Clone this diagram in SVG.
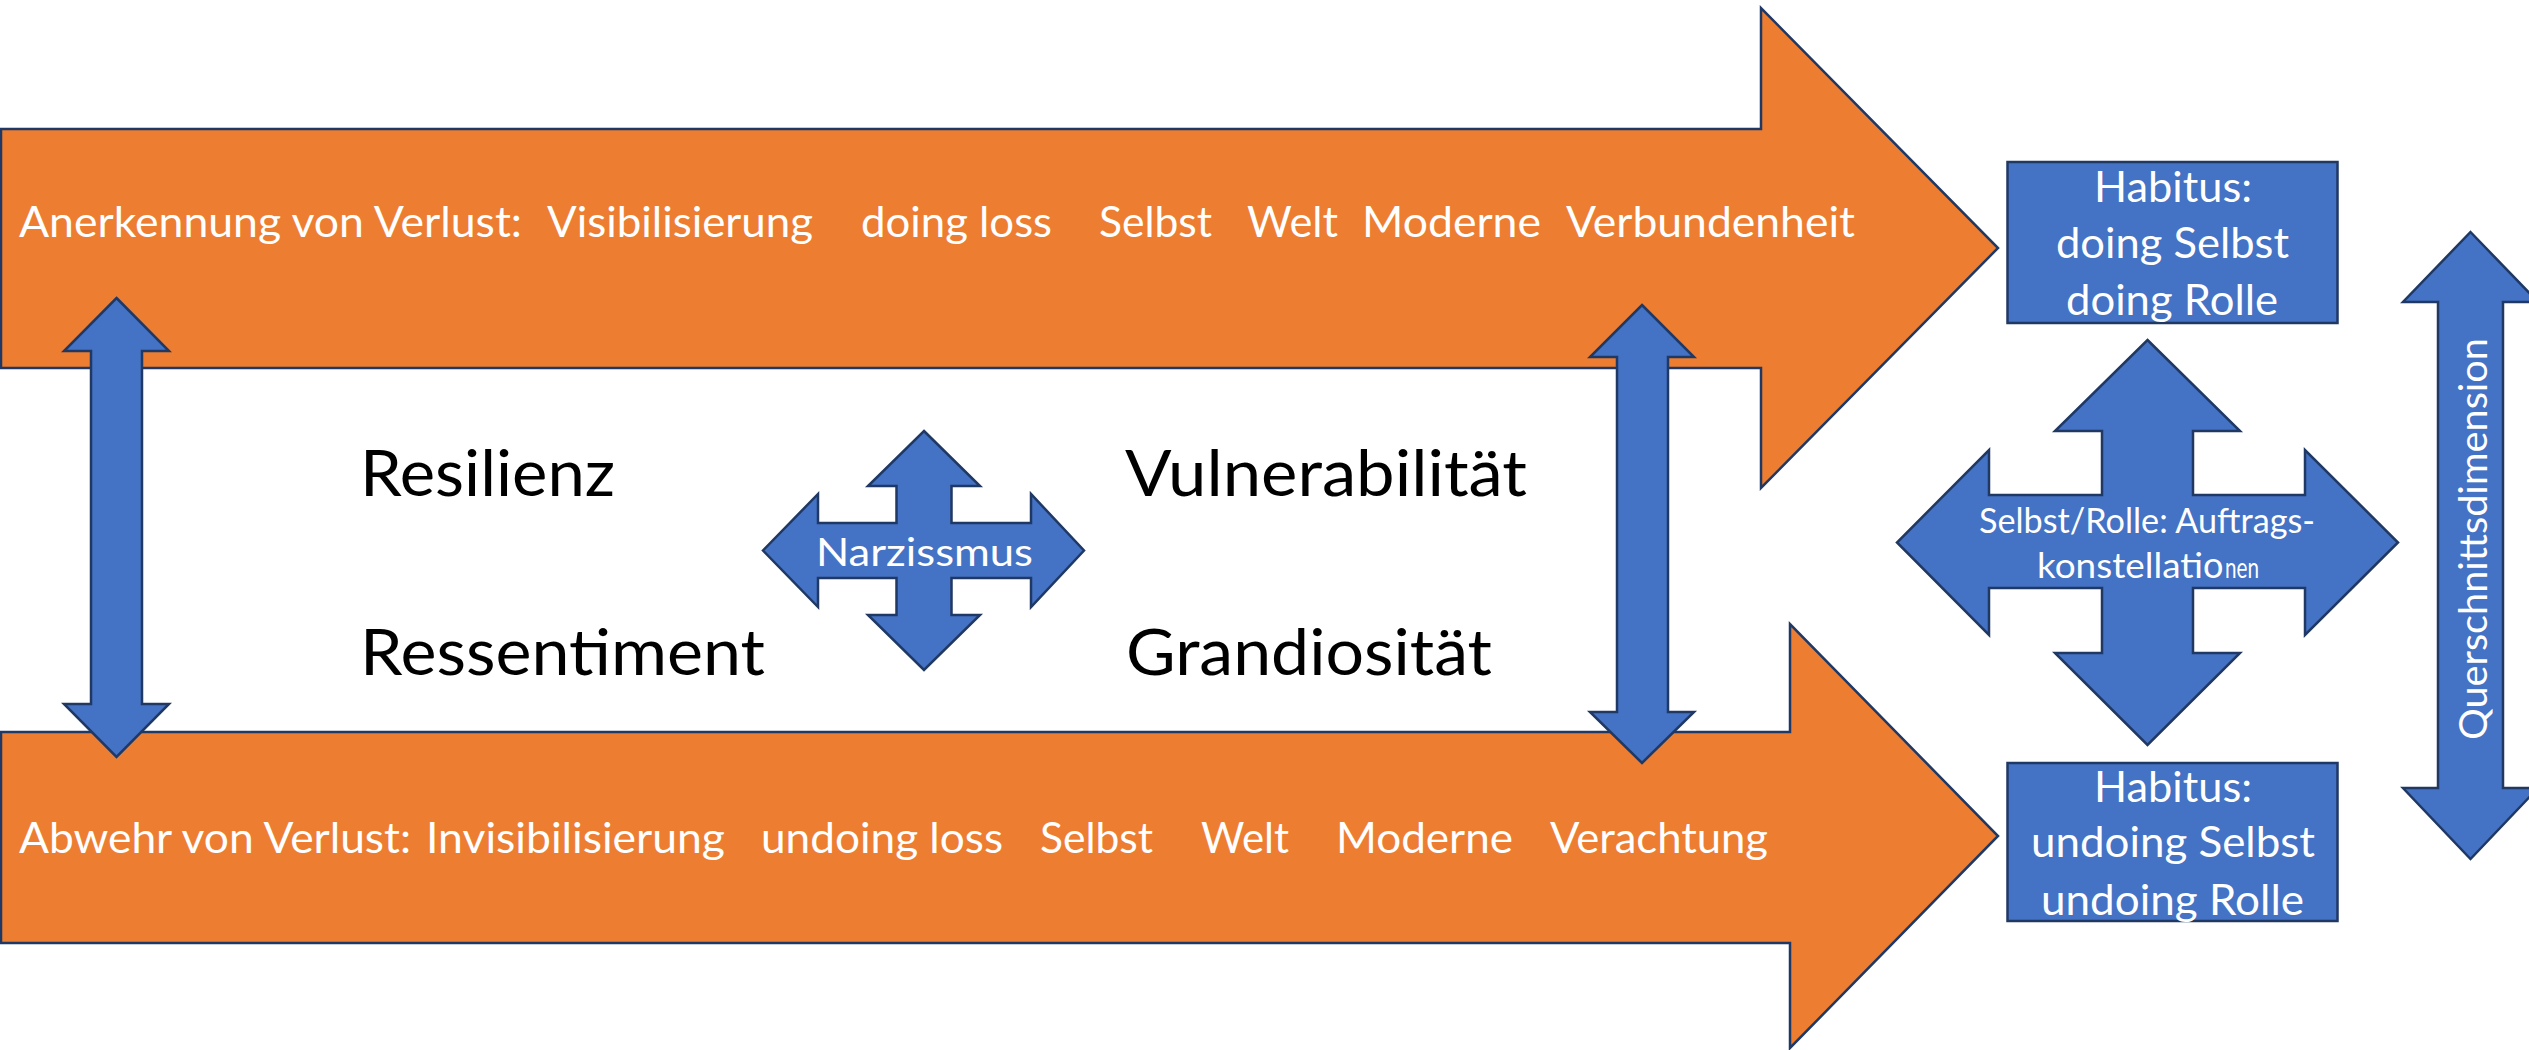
<svg xmlns="http://www.w3.org/2000/svg" width="2529" height="1050" viewBox="0 0 2529 1050">
<style>
.orange{fill:#ED7D31;stroke:#1F3864;stroke-width:2.5;stroke-linejoin:miter}
.blue{fill:#4472C4;stroke:#1F3864;stroke-width:2.5;stroke-linejoin:miter}
.wt{fill:#FFFFFF;font-family:Lato,"Open Sans","Liberation Sans",sans-serif;font-size:42px}
.bk{fill:#000000;font-family:Lato,"Open Sans","Liberation Sans",sans-serif;font-size:64px}
.hb{fill:#FFFFFF;font-family:Lato,"Open Sans","Liberation Sans",sans-serif;font-size:42px}
.sm{fill:#FFFFFF;font-family:Lato,"Open Sans","Liberation Sans",sans-serif;font-size:35px}
</style>
<rect width="2529" height="1050" fill="#FFFFFF"/>

<g id="arrow-anerkennung">
<polygon class="orange" points="1,129 1761,129 1761,8 1998,248 1761,488 1761,368 1,368"/>
<text class="wt" y="237"><tspan x="19" textLength="503" lengthAdjust="spacingAndGlyphs">Anerkennung von Verlust:</tspan><tspan x="547" textLength="266" lengthAdjust="spacingAndGlyphs">Visibilisierung</tspan><tspan x="861" textLength="191" lengthAdjust="spacingAndGlyphs">doing loss</tspan><tspan x="1099" textLength="113" lengthAdjust="spacingAndGlyphs">Selbst</tspan><tspan x="1247" textLength="91" lengthAdjust="spacingAndGlyphs">Welt</tspan><tspan x="1362" textLength="179" lengthAdjust="spacingAndGlyphs">Moderne</tspan><tspan x="1566" textLength="289" lengthAdjust="spacingAndGlyphs">Verbundenheit</tspan></text>
</g>

<g id="arrow-abwehr">
<polygon class="orange" points="1,732 1790,732 1790,624 1998,836 1790,1048 1790,943 1,943"/>
<text class="wt" y="853"><tspan x="19" textLength="392" lengthAdjust="spacingAndGlyphs">Abwehr von Verlust:</tspan><tspan x="426" textLength="299" lengthAdjust="spacingAndGlyphs">Invisibilisierung</tspan><tspan x="761" textLength="242" lengthAdjust="spacingAndGlyphs">undoing loss</tspan><tspan x="1040" textLength="113" lengthAdjust="spacingAndGlyphs">Selbst</tspan><tspan x="1201" textLength="88" lengthAdjust="spacingAndGlyphs">Welt</tspan><tspan x="1336" textLength="177" lengthAdjust="spacingAndGlyphs">Moderne</tspan><tspan x="1550" textLength="218" lengthAdjust="spacingAndGlyphs">Verachtung</tspan></text>
</g>

<g id="connectors">
<polygon class="blue" points="116.5,298 169,351 142,351 142,704 169,704 116.5,757 64,704 91,704 91,351 64,351"/>
<polygon class="blue" points="1642,305 1694,357 1668,357 1668,712 1694,712 1642,763 1590,712 1617,712 1617,357 1590,357"/>
</g>

<g id="label-resilienz"><text class="bk" x="360" y="496" textLength="255" lengthAdjust="spacingAndGlyphs">Resilienz</text></g>
<g id="label-ressentiment"><text class="bk" x="360" y="675" textLength="405" lengthAdjust="spacingAndGlyphs">Ressentiment</text></g>
<g id="label-vulnerabilitaet"><text class="bk" x="1125" y="496" textLength="402" lengthAdjust="spacingAndGlyphs">Vulnerabilität</text></g>
<g id="label-grandiositaet"><text class="bk" x="1126" y="675" textLength="366" lengthAdjust="spacingAndGlyphs">Grandiosität</text></g>

<g id="narzissmus">
<polygon class="blue" points="924,431 980,486 951.5,486 951.5,523 1031,523 1031,494 1084,550.5 1031,607 1031,578 951.5,578 951.5,615 980,615 924,670 868,615 896.5,615 896.5,578 818,578 818,607 763,550.5 818,494 818,523 896.5,523 896.5,486 868,486"/>
<text class="wt" x="816" y="566" style="font-size:39px" textLength="217" lengthAdjust="spacingAndGlyphs">Narzissmus</text>
</g>

<g id="habitus-doing">
<rect class="blue" x="2007.5" y="162" width="330" height="161"/>
<text class="hb"><tspan x="2094" y="202" textLength="158" lengthAdjust="spacingAndGlyphs">Habitus:</tspan><tspan x="2056" y="258" textLength="233" lengthAdjust="spacingAndGlyphs">doing Selbst</tspan><tspan x="2066" y="315" textLength="212" lengthAdjust="spacingAndGlyphs">doing Rolle</tspan></text>
</g>

<g id="auftragskonstellationen">
<polygon class="blue" points="2147.5,340 2240,431 2193,431 2193,495 2305,495 2305,450 2398,542.5 2305,635 2305,588 2193,588 2193,653 2240,653 2147.5,745 2055,653 2102,653 2102,588 1989,588 1989,635 1897,542.5 1989,450 1989,495 2102,495 2102,431 2055,431"/>
<text class="sm"><tspan x="1979" y="533" textLength="336" lengthAdjust="spacingAndGlyphs">Selbst/Rolle: Auftrags-</tspan><tspan x="2037" y="578" textLength="166" lengthAdjust="spacingAndGlyphs">konstellati</tspan><tspan x="2203" y="578" style="font-size:36px">o</tspan><tspan x="2225" y="578" style="font-size:29px" textLength="34" lengthAdjust="spacingAndGlyphs">nen</tspan></text>
</g>

<g id="habitus-undoing">
<rect class="blue" x="2007.5" y="763" width="330" height="158"/>
<text class="hb"><tspan x="2094" y="802" textLength="158" lengthAdjust="spacingAndGlyphs">Habitus:</tspan><tspan x="2031" y="857" textLength="284" lengthAdjust="spacingAndGlyphs">undoing Selbst</tspan><tspan x="2041" y="915" textLength="263" lengthAdjust="spacingAndGlyphs">undoing Rolle</tspan></text>
</g>

<g id="querschnittsdimension">
<polygon class="blue" points="2470.5,232 2538,302 2503,302 2503,788 2538,788 2470.5,859 2403,788 2438,788 2438,302 2403,302"/>
<text class="wt" transform="translate(2487,539) rotate(-90)" x="0" y="0" text-anchor="middle" style="font-size:39px" textLength="402" lengthAdjust="spacingAndGlyphs">Querschnittsdimension</text>
</g>
</svg>
